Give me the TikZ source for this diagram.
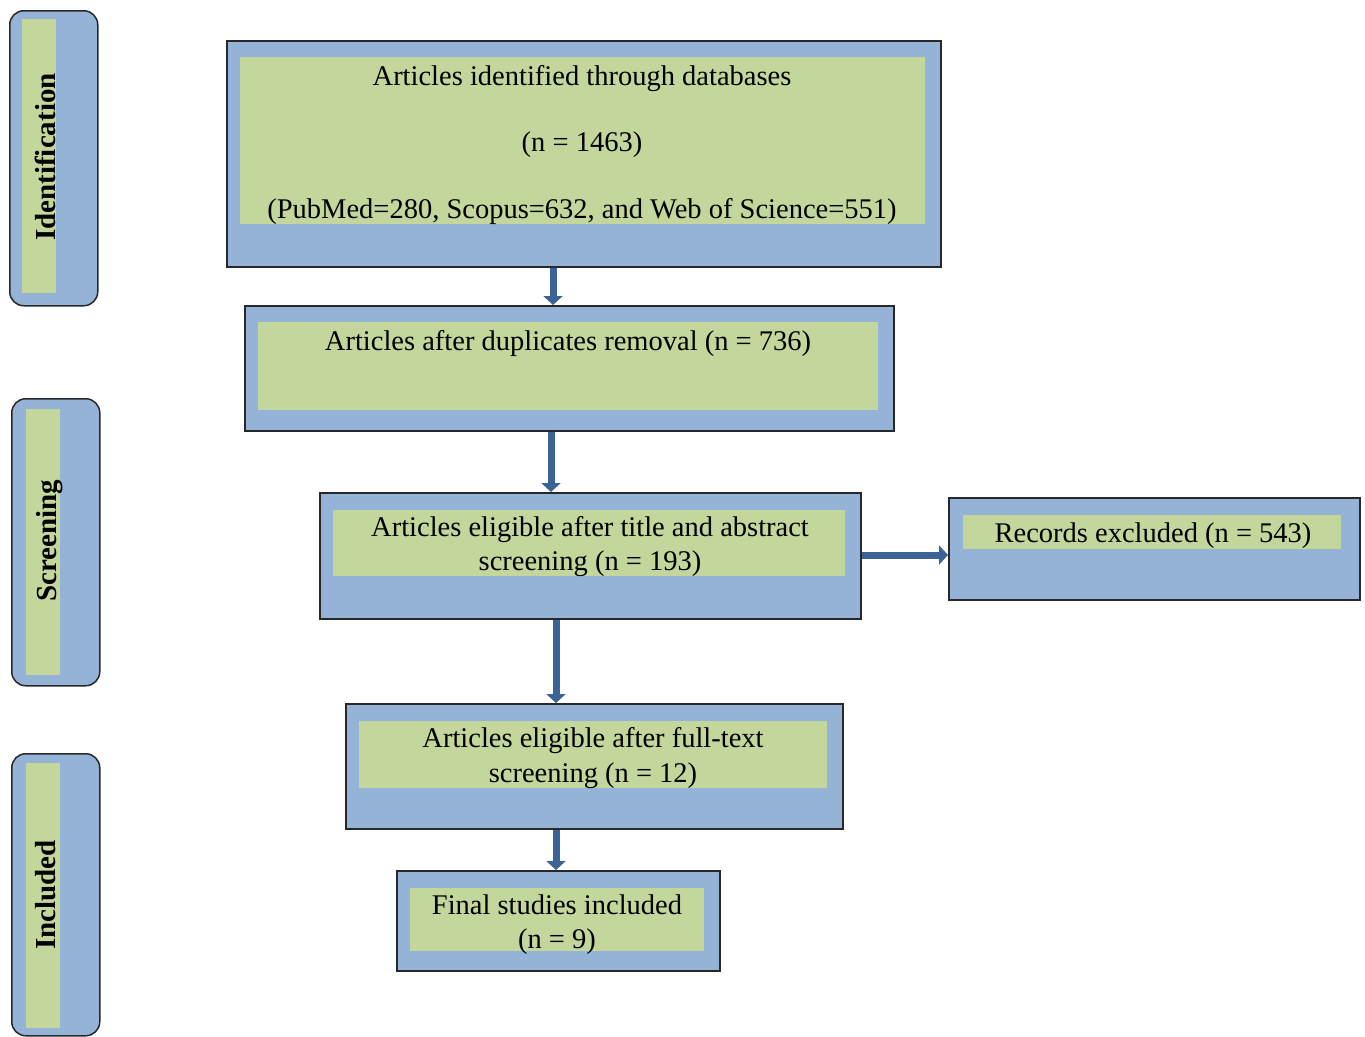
\documentclass[tikz,border=0pt]{standalone}
\usepackage{fontspec}
\setmainfont{Liberation Serif}
\usetikzlibrary{arrows.meta}
\definecolor{boxblue}{RGB}{149,179,215}
\definecolor{boxgreen}{RGB}{195,214,155}
\definecolor{arrowblue}{RGB}{60,99,150}
\definecolor{edgecol}{RGB}{40,40,40}
\begin{document}
\begin{tikzpicture}[x=1pt,y=-1pt,
  outerbox/.style={draw=edgecol, line width=1.5pt, fill=boxblue, inner sep=0pt, anchor=north west},
  sidebox/.style={outerbox, rounded corners=14pt},
  greenbox/.style={fill=boxgreen, inner sep=0pt, anchor=north west},
  txt/.style={font=\fontsize{28.5}{34}\selectfont, inner sep=0pt, anchor=base},
  sidetxt/.style={font=\fontsize{29}{34}\selectfont\bfseries, inner sep=0pt, anchor=base, rotate=90},
  flow/.style={draw=arrowblue, line width=7pt, -{Triangle[width=19pt,length=9pt]}}]
\useasboundingbox (0,0) rectangle (1365,1036);

% side phase boxes
\node[sidebox, minimum width=88pt, minimum height=295pt] (sid) at (9,10) {};
\node[greenbox, minimum width=34pt, minimum height=274pt] (gid) at (22,19) {};
\node[sidetxt] (lid) at (55,157) {Identification};

\node[sidebox, minimum width=88pt, minimum height=287pt] (ssc) at (11,398) {};
\node[greenbox, minimum width=34pt, minimum height=266pt] (gsc) at (26,409) {};
\node[sidetxt] (lsc) at (56,541) {Screening};

\node[sidebox, minimum width=88pt, minimum height=282pt] (sin) at (11,753) {};
\node[greenbox, minimum width=34pt, minimum height=265pt] (gin) at (26,763) {};
\node[sidetxt] (lin) at (55,895) {Included};

% box 1
\node[outerbox, minimum width=714pt, minimum height=226pt] (b1) at (226,40) {};
\node[greenbox, minimum width=685pt, minimum height=167pt] (g1) at (240,57) {};
\node[txt] (t1a) at (582,85) {Articles identified through databases};
\node[txt] (t1b) at (582,151) {(n = 1463)};
\node[txt] (t1c) at (582,218) {(PubMed=280, Scopus=632, and Web of Science=551)};

% box 2
\node[outerbox, minimum width=649pt, minimum height=125pt] (b2) at (244,305) {};
\node[greenbox, minimum width=620pt, minimum height=88pt] (g2) at (258,322) {};
\node[txt] (t2a) at (568,350) {Articles after duplicates removal (n = 736)};

% box 3
\node[outerbox, minimum width=541pt, minimum height=126pt] (b3) at (319,492) {};
\node[greenbox, minimum width=512pt, minimum height=66pt] (g3) at (333,510) {};
\node[txt] (t3a) at (590,536) {Articles eligible after title and abstract};
\node[txt] (t3b) at (590,570) {screening (n = 193)};

% box 4
\node[outerbox, minimum width=411pt, minimum height=102pt] (b4) at (948,497) {};
\node[greenbox, minimum width=378pt, minimum height=34pt] (g4) at (963,515) {};
\node[txt] (t4a) at (1153,542) {Records excluded (n = 543)};

% box 5
\node[outerbox, minimum width=497pt, minimum height=125pt] (b5) at (345,703) {};
\node[greenbox, minimum width=468pt, minimum height=67pt] (g5) at (359,721) {};
\node[txt] (t5a) at (593,747) {Articles eligible after full-text};
\node[txt] (t5b) at (593,782) {screening (n = 12)};

% box 6
\node[outerbox, minimum width=323pt, minimum height=100pt] (b6) at (396,870) {};
\node[greenbox, minimum width=294pt, minimum height=63pt] (g6) at (410,888) {};
\node[txt] (t6a) at (557,914) {Final studies included};
\node[txt] (t6b) at (557,948) {(n = 9)};

% arrows
\coordinate (x1) at (553,0);
\coordinate (x2) at (551,0);
\coordinate (x3) at (556,0);
\coordinate (y5) at (0,555);
\draw[flow] (b1.south -| x1) -- (b2.north -| x1);
\draw[flow] (b2.south -| x2) -- (b3.north -| x2);
\draw[flow] (b3.south -| x3) -- (b5.north -| x3);
\draw[flow] (b5.south -| x3) -- (b6.north -| x3);
\draw[flow] (b3.east |- y5) -- (b4.west |- y5);
\end{tikzpicture}
\end{document}
